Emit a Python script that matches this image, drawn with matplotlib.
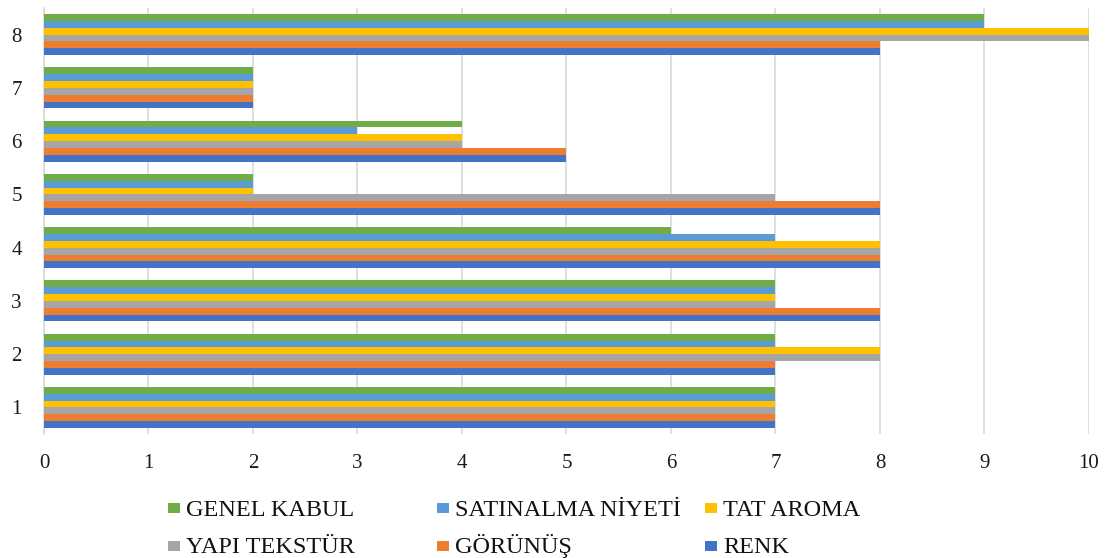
import matplotlib.pyplot as plt
from matplotlib.patches import Rectangle
import numpy as np

plt.rcParams['font.family'] = ['Liberation Serif', 'DejaVu Serif']

# panel groups 1..8 and the six sensory scores for each
groups = ['1', '2', '3', '4', '5', '6', '7', '8']
renk = [7, 7, 8, 8, 8, 5, 2, 8]
gorunus = [7, 7, 8, 8, 8, 5, 2, 8]
yapi_tekstur = [7, 8, 7, 8, 7, 4, 2, 10]
tat_aroma = [7, 8, 7, 8, 2, 4, 2, 10]
satinalma = [7, 7, 7, 7, 2, 3, 2, 9]
genel_kabul = [7, 7, 7, 6, 2, 4, 2, 9]

series = [
    ('RENK', renk, '#4472C4'),
    ('GÖRÜNÜŞ', gorunus, '#ED7D31'),
    ('YAPI TEKSTÜR', yapi_tekstur, '#A5A5A5'),
    ('TAT AROMA', tat_aroma, '#FFC000'),
    ('SATINALMA NİYETİ', satinalma, '#5B9BD5'),
    ('GENEL KABUL', genel_kabul, '#70AD47'),
]
colors = {name: col for name, _, col in series}

W, H = 1114, 558
fig = plt.figure(figsize=(W / 100, H / 100), dpi=100)
ax = fig.add_axes([0.0395, 0.222, 0.938, 0.7637])

y = np.arange(1, len(groups) + 1)
h = 0.77 / len(series)
for i, (name, vals, col) in enumerate(series):
    off = (i - (len(series) - 1) / 2) * h
    ax.barh(y + off, vals, height=h, color=col, label=name, zorder=3)

ax.set_xlim(0, 10)
ax.set_ylim(0.5, 8.5)
ax.set_xticks(range(0, 11))
ax.set_yticks(y)
ax.set_yticklabels(groups)
ax.grid(axis='x', color='#D9D9D9', linewidth=1.2, zorder=0)
for s in ['top', 'right', 'bottom']:
    ax.spines[s].set_visible(False)
ax.spines['left'].set_color('#D9D9D9')
ax.spines['left'].set_linewidth(1.2)
ax.tick_params(length=0, labelsize=15, colors='#1a1a1a')
ax.tick_params(axis='x', pad=14)
ax.tick_params(axis='y', pad=16)

# legend laid out by hand: three equal columns, two rows
legend_rows = [
    ['GENEL KABUL', 'SATINALMA NİYETİ', 'TAT AROMA'],
    ['YAPI TEKSTÜR', 'GÖRÜNÜŞ', 'RENK'],
]
col_x = [168, 437, 705]
row_y = [508, 545.5]
for names, cy in zip(legend_rows, row_y):
    for name, x0 in zip(names, col_x):
        fig.add_artist(Rectangle((x0 / W, 1 - (cy + 5) / H), 12 / W, 10 / H,
                                 transform=fig.transFigure,
                                 color=colors[name], lw=0))
        fig.text((x0 + 18) / W, 1 - (cy + 7.5) / H, name, fontsize=17.5,
                 ha='left', va='baseline', color='#111111')

fig.savefig('out.png', dpi=100)
